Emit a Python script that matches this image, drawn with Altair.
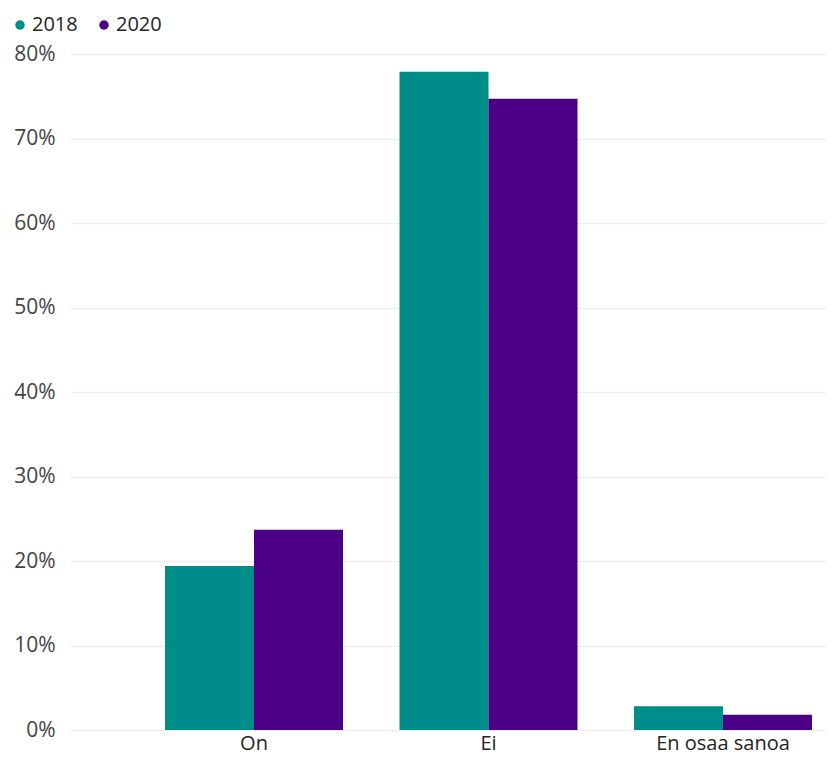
import altair as alt
import pandas as pd

categories = ["On", "Ei", "En osaa sanoa"]
years = ["2018", "2020"]
values_2018 = [0.194, 0.779, 0.028]
values_2020 = [0.237, 0.747, 0.018]
colors = ["#008C89", "#4B0087"]
y_ticks = [0, 0.1, 0.2, 0.3, 0.4, 0.5, 0.6, 0.7, 0.8]

rows = []
for c, a, b in zip(categories, values_2018, values_2020):
    rows.append({"Vastaus": c, "Vuosi": years[0], "Osuus": a})
    rows.append({"Vastaus": c, "Vuosi": years[1], "Osuus": b})
df = pd.DataFrame(rows)

FONT = "Open Sans"

chart = (
    alt.Chart(df)
    .mark_bar()
    .encode(
        x=alt.X(
            "Vastaus:N",
            sort=categories,
            title=None,
            scale=alt.Scale(paddingInner=0.241, paddingOuter=0.2324, align=0.8716),
            axis=alt.Axis(
                labelAngle=0,
                domain=False,
                ticks=False,
                labelFont=FONT,
                labelFontSize=20,
                labelColor="#252423",
                labelPadding=3,
            ),
        ),
        xOffset=alt.XOffset("Vuosi:N", sort=years, scale=alt.Scale(paddingInner=0, paddingOuter=0)),
        y=alt.Y(
            "Osuus:Q",
            title=None,
            scale=alt.Scale(domain=[0, 0.8], nice=False),
            axis=alt.Axis(
                format=".0%",
                values=y_ticks,
                domain=False,
                ticks=False,
                grid=True,
                gridColor="#EEEEEE",
                gridWidth=1.5,
                labelFont=FONT,
                labelFontSize=21,
                labelColor="#444444",
                labelPadding=15,
            ),
        ),
        color=alt.Color(
            "Vuosi:N",
            sort=years,
            scale=alt.Scale(domain=years, range=colors),
            legend=alt.Legend(
                title=None,
                orient="none",
                legendX=-60,
                legendY=-39,
                direction="horizontal",
                symbolType="circle",
                symbolSize=90,
                symbolStrokeWidth=0,
                labelFont=FONT,
                labelFontSize=20,
                labelColor="#252423",
                labelOffset=2,
                columnPadding=16,
            ),
        ),
    )
    .properties(
        width=756,
        height=676,
        autosize=alt.AutoSizeParams(type="none"),
        padding={"left": 62, "top": 46, "right": 0, "bottom": 26},
    )
    .configure_view(stroke=None)
)

chart.save("out.html", embed_options={"renderer": "svg", "actions": False})
